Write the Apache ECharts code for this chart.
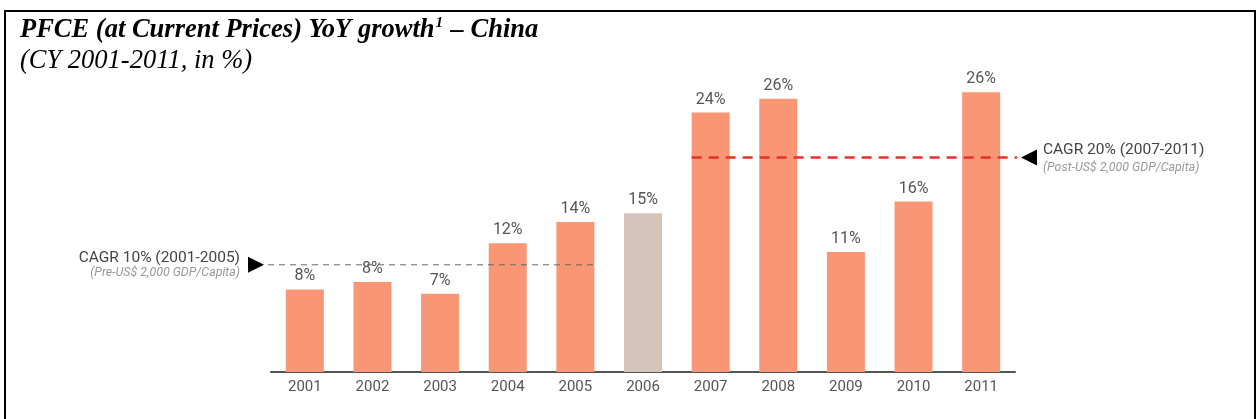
<!DOCTYPE html>
<html>
<head>
<meta charset="utf-8">
<script src="https://cdn.jsdelivr.net/npm/echarts@6/dist/echarts.min.js"></script>
<style>
  html, body { margin: 0; padding: 0; background: #fff; }
  #chart { width: 1256px; height: 419px; }
</style>
</head>
<body>
<div id="chart"></div>
<script>
// Private final consumption expenditure, year-on-year growth (%)
const years = ['2001', '2002', '2003', '2004', '2005', '2006', '2007', '2008', '2009', '2010', '2011'];
const growth = [7.7, 8.4, 7.3, 12.0, 14.0, 14.8, 24.2, 25.5, 11.2, 15.9, 26.1];
const highlightYear = '2006';

// Compound annual growth over the two periods
const cagrValues = [10, 20];
const cagrTitles = ['CAGR 10% (2001-2005)', 'CAGR 20% (2007-2011)'];
const cagrNotes = ['(Pre-US$ 2,000 GDP/Capita)', '(Post-US$ 2,000 GDP/Capita)'];
const cagrSpans = [['2001', '2005'], ['2007', '2011']];

const titleMain = 'PFCE (at Current Prices) YoY growth';
const titleSup = '1';
const titleTail = ' – China';
const subtitle = '(CY 2001-2011, in %)';

const BAR = '#F89675';
const BAR_HL = '#D5C4BA';
const BAR_W = 38;

const chart = echarts.init(document.getElementById('chart'), null, { renderer: 'canvas' });

chart.setOption({
  animation: false,
  backgroundColor: '#fff',
  grid: { left: 271, right: 241, top: 50.4, bottom: 47 },
  xAxis: {
    type: 'category',
    data: years,
    boundaryGap: true,
    axisLine: { show: true, lineStyle: { color: '#555', width: 2 } },
    axisTick: { show: false },
    axisLabel: { color: '#555', fontSize: 15, fontFamily: 'Roboto', margin: 8 }
  },
  yAxis: {
    type: 'value', min: 0, max: 30, show: false,
    splitLine: { show: false }
  },
  series: [{
    type: 'bar',
    barWidth: BAR_W,
    data: growth.map((v, i) => ({
      value: v,
      itemStyle: { color: years[i] === highlightYear ? BAR_HL : BAR }
    })),
    label: {
      show: true, position: 'top', distance: 5,
      color: '#555', fontSize: 16, fontFamily: 'Roboto',
      formatter: p => Math.round(p.value) + '%'
    }
  }]
});

// CAGR reference lines and their notes, placed through the chart's own scales
function buildGraphics() {
  const g = [];
  const xStart = 271, xEnd = 1256 - 241;
  const px = (cat) => chart.convertToPixel({ xAxisIndex: 0 }, cat);
  const py = (v) => chart.convertToPixel({ yAxisIndex: 0 }, v);
  const Z = 100;

  // frame
  g.push({ type: 'rect', z: Z, shape: { x: 5, y: 11, width: 1250, height: 420 },
           style: { fill: 'none', stroke: '#000', lineWidth: 2 }, silent: true });

  // title
  g.push({
    type: 'text', left: 20, top: 16, z: Z,
    style: {
      text: '{a|' + titleMain + '}{s|' + titleSup + '}{a|' + titleTail + '}',
      rich: {
        a: { fontFamily: 'Liberation Serif', fontWeight: 'bold', fontStyle: 'italic', fontSize: 26.5, fill: '#000', lineHeight: 28 },
        s: { fontFamily: 'Liberation Serif', fontWeight: 'bold', fontStyle: 'italic', fontSize: 15, fill: '#000', verticalAlign: 'top', lineHeight: 28, padding: [0, 1, 0, 1] }
      }
    }
  });
  g.push({
    type: 'text', left: 20, top: 48, z: Z,
    style: { text: subtitle, fontFamily: 'Liberation Serif', fontStyle: 'italic', fontSize: 26.5, fill: '#000' }
  });

  // left period (2001-2005): dashed grey, note on the left
  {
    const y = py(cagrValues[0]);
    const x0 = xStart - 3;
    const x1 = px(cagrSpans[0][1]) + BAR_W / 2;
    g.push({ type: 'line', z: Z, shape: { x1: x0, y1: y, x2: x1, y2: y },
             style: { stroke: '#666', lineWidth: 1, lineDash: [6, 5] } });
    g.push({ type: 'polygon', z: Z, shape: { points: [[x0 - 20, y - 8], [x0 - 20, y + 8], [x0 - 4, y]] },
             style: { fill: '#000' } });
    g.push({ type: 'text', z: Z, x: x0 - 28, y: y - 7,
             style: { text: cagrTitles[0], fontFamily: 'Roboto', fontSize: 15.5, fill: '#444',
                      align: 'right', verticalAlign: 'middle' } });
    g.push({ type: 'text', z: Z, x: x0 - 28, y: y + 8,
             style: { text: cagrNotes[0], fontFamily: 'Roboto', fontStyle: 'italic', fontSize: 12.4, fill: '#999',
                      align: 'right', verticalAlign: 'middle' } });
  }
  // right period (2007-2011): dashed red, note on the right
  {
    const y = py(cagrValues[1]);
    const x0 = px(cagrSpans[1][0]) - BAR_W / 2;
    const x1 = xEnd + 2;
    g.push({ type: 'line', z: Z, shape: { x1: x0, y1: y, x2: x1, y2: y },
             style: { stroke: '#E8302A', lineWidth: 2.5, lineDash: [10, 7] } });
    g.push({ type: 'polygon', z: Z, shape: { points: [[x1 + 4, y], [x1 + 20, y - 8], [x1 + 20, y + 8]] },
             style: { fill: '#000' } });
    g.push({ type: 'text', z: Z, x: x1 + 26, y: y - 7,
             style: { text: cagrTitles[1], fontFamily: 'Roboto', fontSize: 15.5, fill: '#444',
                      align: 'left', verticalAlign: 'middle' } });
    g.push({ type: 'text', z: Z, x: x1 + 26, y: y + 10,
             style: { text: cagrNotes[1], fontFamily: 'Roboto', fontStyle: 'italic', fontSize: 12.4, fill: '#999',
                      align: 'left', verticalAlign: 'middle' } });
  }
  return g;
}

chart.setOption({ graphic: buildGraphics() });
</script>
</body>
</html>
